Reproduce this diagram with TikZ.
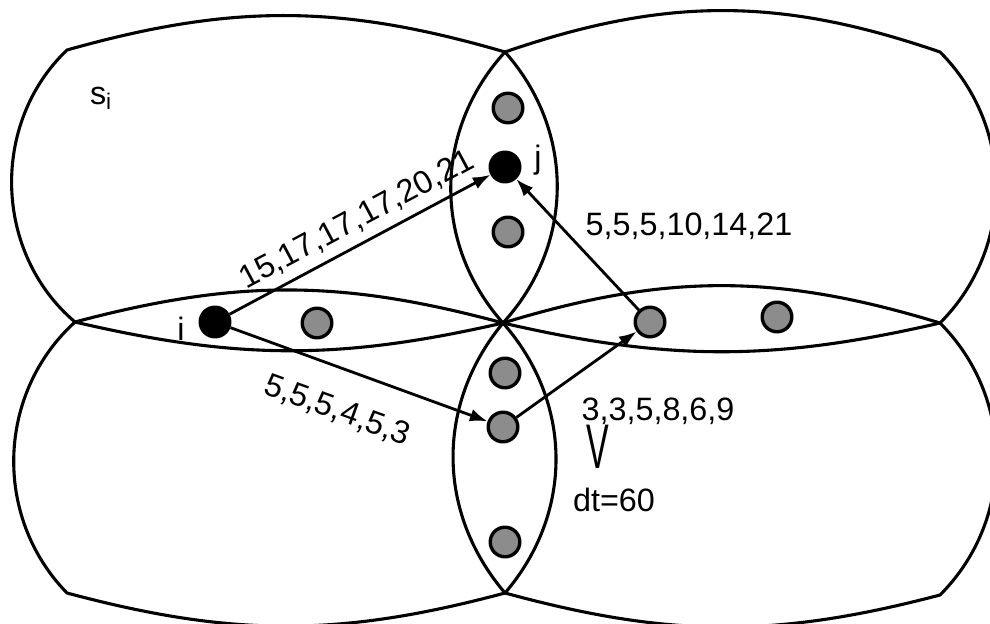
\documentclass[tikz,border=0pt]{standalone}
\usepackage{fontspec}
\setmainfont{Liberation Sans}
\usetikzlibrary{arrows.meta,positioning}

\begin{document}
\begin{tikzpicture}[
        x=0.25mm, y=0.25mm,
        font=\fontsize{23}{27}\selectfont,
        cell/.style={
            draw,
            line width=2.2pt,
            line join=miter
        },
        station/.style={
            circle,
            draw,
            line width=2.4pt,
            fill=black!45,
            minimum size=7.4mm,
            inner sep=0pt
        },
        endpoint/.style={
            station,
            fill=black
        },
        arrow/.style={
            -{Latex[length=4.4mm,width=3.2mm]},
            line width=2pt
        },
        seq/.style={
            inner sep=1pt
        }
    ]

        \useasboundingbox (0,0) rectangle (990,623);
        \clip (0,0) rectangle (990,623);

        % Eckpunkte der vier Zellen
        \coordinate (A1) at ( 67,573);
        \coordinate (A2) at (505,571);
        \coordinate (A3) at (940,571);
        \coordinate (B1) at ( 75,301);
        \coordinate (B2) at (503,300);
        \coordinate (B3) at (940,300);
        \coordinate (C1) at ( 67, 30);
        \coordinate (C2) at (505, 30);
        \coordinate (C3) at (940, 28);

        % vier sich überlappende Zellen
        \draw[cell] (A1) to[bend left=16] (A2) to[bend left=42] (B2)
            to[bend left=13] (B1) to[bend left=48] cycle;
        \draw[cell] (A2) to[bend left=19] (A3) to[bend left=45] (B3)
            to[bend left=13] (B2) to[bend left=42] cycle;
        \draw[cell] (B1) to[bend left=15] (B2) to[bend left=41] (C2)
            to[bend left=15] (C1) to[bend left=46] cycle;
        \draw[cell] (B2) to[bend left=17] (B3) to[bend left=45] (C3)
            to[bend left=15] (C2) to[bend left=40] cycle;

        \node (si) at (101,525) {s\textsubscript{i}};

        % Knoten in den Überlappungen
        \node[endpoint] (i) at (215,301) {};
        \node[endpoint] (j) at (505,456) {};
        \node[station] (vtop)   at (508,515) {};
        \node[station] (vmid)   at (508,391) {};
        \node[station] (hleft)  at (317,300) {};
        \node[station] (vlow)   at (505,250) {};
        \node[station] (hop)    at (503,196) {};
        \node[station] (vbot)   at (505, 81) {};
        \node[station] (hop2)   at (650,301) {};
        \node[station] (hright) at (777,306) {};

        \node (ilabel) at (181,294) {i};
        \node (jlabel) at (538,463) {j};

        % Pfade mit Messreihen
        \draw[arrow] (i)
            -- node[seq,sloped,above=5pt,pos=0.53] {15,17,17,17,20,21}
            (j);

        \draw[arrow] (i)
            -- node[seq,sloped,below=18pt,pos=0.47] {5,5,5,4,5,3}
            (hop);

        \draw[arrow] (hop) -- (hop2);
        \draw[arrow] (hop2) -- (j);

        \node[seq] (seqj) at (689,397) {5,5,5,10,14,21};
        \node[seq] (seqd) at (658,212) {3,3,5,8,6,9};
        \node[seq,xscale=1.05,yscale=1.95] (vmark) at (598,176) {V};
        \node[seq] (dt) at (614,123) {dt=60};

    \end{tikzpicture}
\end{document}
